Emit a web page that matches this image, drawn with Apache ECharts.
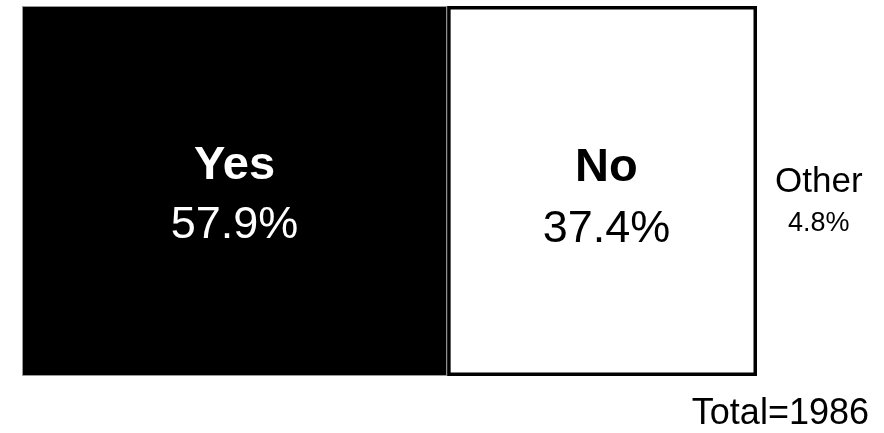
<!DOCTYPE html>
<html>
<head>
<meta charset="utf-8">
<script src="https://cdn.jsdelivr.net/npm/echarts@6/dist/echarts.min.js"></script>
<style>html,body{margin:0;padding:0;background:#fff;}#chart{width:884px;height:433px;}</style>
</head>
<body>
<div id="chart"></div>
<script>
const categories = ['Responses'];
const seriesNames = ['Yes', 'No', 'Other'];
const yesValues = [57.9];
const noValues = [37.4];
const otherValues = [4.8];
const totalText = 'Total=1986';

const axisMax = yesValues[0] + noValues[0] + otherValues[0];
const font = '"Liberation Sans", Arial, sans-serif';

const chart = echarts.init(document.getElementById('chart'));
chart.setOption({
  animation: false,
  backgroundColor: '#fff',
  title: {
    text: totalText, right: 10, bottom: -4,
    textStyle: { fontFamily: font, fontWeight: 'normal', fontSize: 36, color: '#000' }
  },
  grid: { left: 22, right: 127, top: 6, bottom: 57 },
  xAxis: { type: 'value', min: 0, max: axisMax, show: false },
  yAxis: { type: 'category', data: categories, show: false },
  series: [
    {
      name: seriesNames[0], type: 'bar', stack: 'a', data: yesValues,
      barWidth: '100%', barGap: '-100%',
      itemStyle: { color: '#000', borderColor: '#999', borderWidth: 1 },
      label: {
        show: true, position: 'inside', offset: [0, 5],
        formatter: p => '{b|' + p.seriesName + '}\n{v|' + p.value + '%}',
        rich: {
          b: { fontFamily: font, fontWeight: 'bold', fontSize: 47, color: '#fff', lineHeight: 60, align: 'center' },
          v: { fontFamily: font, fontSize: 45, color: '#fff', lineHeight: 60, align: 'center' }
        }
      }
    },
    {
      name: seriesNames[1], type: 'bar', stack: 'a', data: noValues,
      barWidth: '100%', barGap: '-100%',
      itemStyle: { color: '#fff' },
      label: {
        show: true, position: 'inside', offset: [22, 8],
        formatter: p => '{b|' + p.seriesName + '}\n{v|' + p.value + '%}',
        rich: {
          b: { fontFamily: font, fontWeight: 'bold', fontSize: 47, color: '#000', lineHeight: 62, align: 'center' },
          v: { fontFamily: font, fontSize: 45, color: '#000', lineHeight: 62, align: 'center' }
        }
      }
    },
    {
      name: seriesNames[2], type: 'bar', stack: 'a', data: otherValues,
      barWidth: '100%', barGap: '-100%',
      itemStyle: { color: '#fff' },
      label: {
        show: true, position: 'right', distance: 17, offset: [1, 11],
        formatter: p => '{b|' + p.seriesName + '}\n{v|' + p.value + '%}',
        rich: {
          b: { fontFamily: font, fontSize: 35, color: '#000', lineHeight: 44, align: 'center' },
          v: { fontFamily: font, fontSize: 27, color: '#000', lineHeight: 40, align: 'center' }
        }
      }
    },
    {
      name: 'base', type: 'bar', stack: 'b', data: yesValues,
      barWidth: '100%', barGap: '-100%', silent: true,
      itemStyle: { color: 'rgba(0,0,0,0)' }
    },
    {
      name: 'outline', type: 'bar', stack: 'b', z: 5,
      data: noValues.map((v, i) => v + otherValues[i]),
      barWidth: '100%', barGap: '-100%', silent: true,
      itemStyle: { color: 'rgba(0,0,0,0)', borderColor: '#000', borderWidth: 3.5 }
    }
  ]
});
</script>
</body>
</html>
